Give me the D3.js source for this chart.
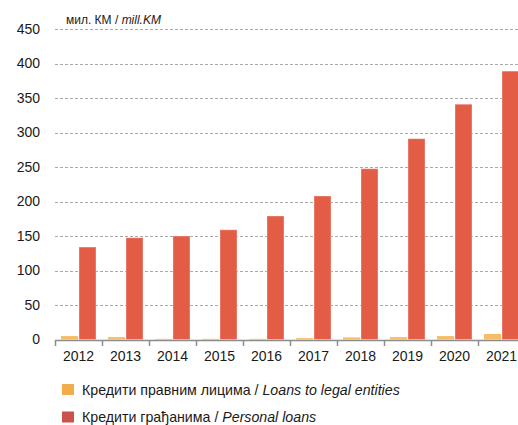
<!DOCTYPE html>
<html>
<head>
<meta charset="utf-8">
<script src="https://cdn.jsdelivr.net/npm/d3@7"></script>
<style>
  body { margin: 0; background: #fff; }
  text { font-family: "Liberation Sans", Arial, sans-serif; fill: #1a1a1a; }
</style>
</head>
<body>
<svg id="chart" width="518" height="425"></svg>
<script>
  var years = ['2012', '2013', '2014', '2015', '2016', '2017', '2018', '2019', '2020', '2021'];
  var legalLoans = [5, 3.5, 1, 1, 1, 2, 3, 3.5, 5, 8];
  var personalLoans = [134, 147.5, 150, 159, 179, 208, 247.5, 291, 341, 389];
  var yTicks = [0, 50, 100, 150, 200, 250, 300, 350, 400, 450];
  var seriesNames = ['legal', 'personal'];

  var svg = d3.select('#chart');
  var margin = { top: 29, left: 55, bottom: 340 };

  var x0 = d3.scaleBand()
    .domain(years)
    .range([margin.left, margin.left + 47 * years.length])
    .padding(0);

  var x1 = d3.scaleBand()
    .domain(seriesNames)
    .range([0, x0.bandwidth()])
    .paddingInner(0.056)
    .paddingOuter(0.333);

  var y = d3.scaleLinear()
    .domain([0, 450])
    .range([339.5, 29]);

  // grid lines
  svg.append('g')
    .selectAll('line')
    .data(yTicks.filter(function(d) { return d > 0; }))
    .enter()
    .append('line')
    .attr('x1', margin.left)
    .attr('x2', 518)
    .attr('y1', function(d) { return Math.round(y(d)) + 0.5; })
    .attr('y2', function(d) { return Math.round(y(d)) + 0.5; })
    .style('stroke', '#a8a8a8')
    .style('stroke-dasharray', '3,2');

  // y labels
  svg.append('g')
    .selectAll('text')
    .data(yTicks)
    .enter()
    .append('text')
    .attr('x', 40)
    .attr('y', function(d) { return y(d); })
    .attr('dy', '0.35em')
    .attr('text-anchor', 'end')
    .style('font-size', '14px')
    .text(function(d) { return d; });

  // bars
  var groups = svg.append('g')
    .selectAll('g')
    .data(years)
    .enter()
    .append('g')
    .attr('transform', function(d) { return 'translate(' + x0(d) + ',0)'; });

  groups.append('rect')
    .attr('x', x1('legal'))
    .attr('width', x1.bandwidth())
    .attr('y', function(d, i) { return y(legalLoans[i]); })
    .attr('height', function(d, i) { return y(0) - y(legalLoans[i]); })
    .style('fill', '#f7bd66');

  groups.append('rect')
    .attr('x', x1('personal'))
    .attr('width', x1.bandwidth())
    .attr('y', function(d, i) { return y(personalLoans[i]); })
    .attr('height', function(d, i) { return y(0) - y(personalLoans[i]); })
    .style('fill', '#e35c46')
    .style('stroke', 'rgba(255,255,255,0.35)')
    .style('stroke-width', 1);

  // x axis
  var xAxis = d3.axisBottom(x0).tickSize(0).tickPadding(11);
  var gx = svg.append('g')
    .attr('transform', 'translate(0,' + 340 + ')')
    .call(xAxis);
  gx.select('.domain').remove();
  gx.selectAll('text')
    .style('font-size', '14px')
    .style('font-family', '"Liberation Sans", Arial, sans-serif')
    .style('fill', '#1a1a1a');

  svg.append('line')
    .attr('x1', margin.left)
    .attr('x2', 518)
    .attr('y1', 340.5)
    .attr('y2', 340.5)
    .style('stroke', '#8c8c8c')
    .style('stroke-width', 1.5);

  svg.append('g')
    .selectAll('line')
    .data(years)
    .enter()
    .append('line')
    .attr('x1', function(d) { return x0(d) + 0.5; })
    .attr('x2', function(d) { return x0(d) + 0.5; })
    .attr('y1', 340)
    .attr('y2', 346)
    .style('stroke', '#8c8c8c')
    .style('stroke-width', 1.5);

  // unit caption
  var cap = svg.append('text')
    .attr('x', 66)
    .attr('y', 24)
    .style('font-size', '12px');
  cap.append('tspan').text('мил. КМ / ');
  cap.append('tspan').style('font-style', 'italic').text('mill.KM');

  // legend
  var legendItems = [
    { color: '#f0ad4a', label: 'Кредити правним лицима / ', en: 'Loans to legal entities' },
    { color: '#c9524c', label: 'Кредити грађанима / ', en: 'Personal loans' }
  ];
  var legend = svg.append('g')
    .selectAll('g')
    .data(legendItems)
    .enter()
    .append('g')
    .attr('transform', function(d, i) { return 'translate(62,' + (384 + i * 27.5) + ')'; });

  legend.append('rect')
    .attr('width', 12)
    .attr('height', 11)
    .style('fill', function(d) { return d.color; });

  var lt = legend.append('text')
    .attr('x', 20)
    .attr('y', 10.5)
    .style('font-size', '14.2px');
  lt.append('tspan').text(function(d) { return d.label; });
  lt.append('tspan').style('font-style', 'italic').text(function(d) { return d.en; });
</script>
</body>
</html>
